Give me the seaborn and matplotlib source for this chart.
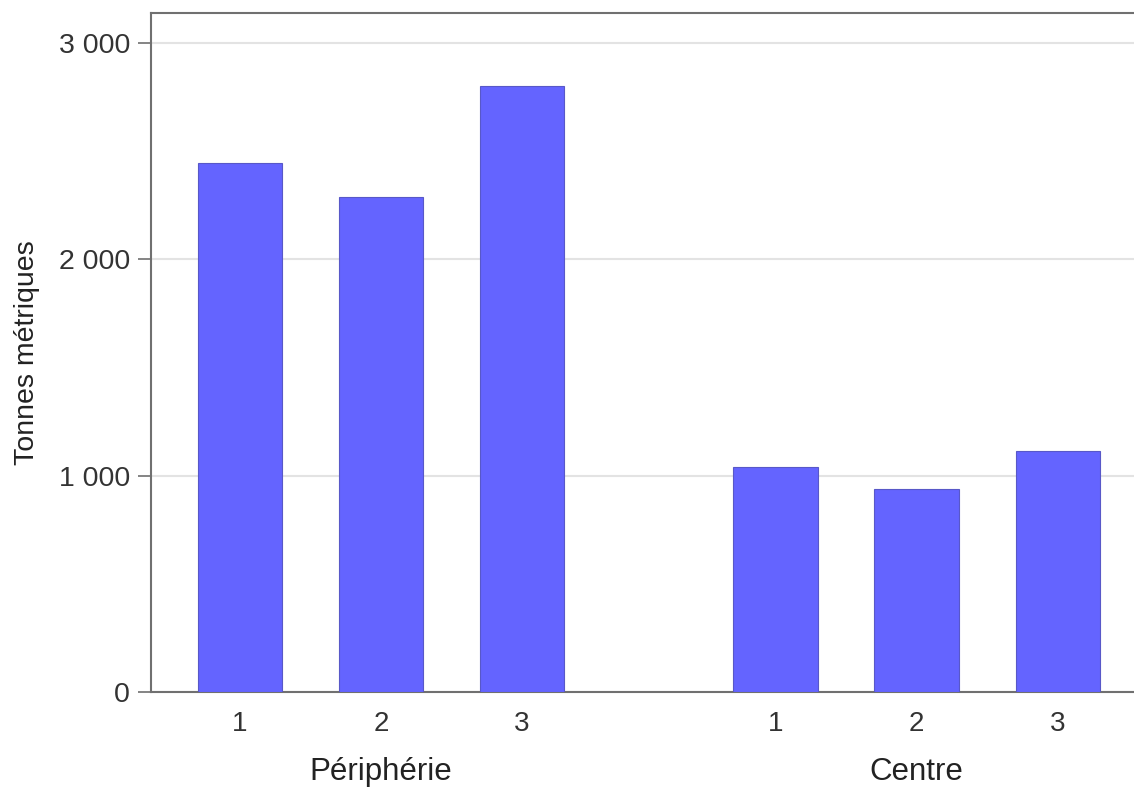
import pandas as pd
import matplotlib
matplotlib.use("Agg")
import matplotlib.pyplot as plt
import matplotlib.transforms as mtransforms
import seaborn as sns

# données (tonnes métriques)
groups = ["Périphérie", "Centre"]
bar_labels = ["1", "2", "3"]
peripherie_vals = [2447, 2287, 2803]
centre_vals = [1039, 937, 1114]

group_gap = 0.8  # espace supplémentaire entre les deux groupes

rows = []
for g, vals in enumerate([peripherie_vals, centre_vals]):
    for i, v in enumerate(vals):
        rows.append({"group": groups[g], "label": bar_labels[i],
                     "pos": g * (len(bar_labels) + group_gap) + i, "value": v})
df = pd.DataFrame(rows)

sns.set_style("white")
plt.rcParams['font.family'] = ['Liberation Sans', 'DejaVu Sans']

fig = plt.figure(figsize=(11.34, 7.89), dpi=100)
ax = fig.add_axes([151 / 1134, 97 / 789, 1 - 151 / 1134, 679 / 789])

sns.barplot(data=df, x="pos", y="value", native_scale=True, width=0.6,
            color="#6464ff", saturation=1, edgecolor="#5858c8", linewidth=0.8,
            ax=ax, zorder=3)

ax.set_xlim(-0.63, 6.34)
ax.set_ylim(0, 3139)
ax.set_yticks([0, 1000, 2000, 3000])
ax.set_yticklabels(["0", "1 000", "2 000", "3 000"])
ax.yaxis.grid(True, color="#e3e3e3", linewidth=1.5, zorder=0)
ax.xaxis.grid(False)

ax.set_xticks(df["pos"])
ax.set_xticklabels(df["label"])
ax.tick_params(axis="x", length=0, pad=14, labelsize=20, labelcolor="#333333")
ax.tick_params(axis="y", length=9.5, width=1.2, color="#707070", pad=5.5,
               labelsize=20.5, labelcolor="#333333", left=True)

for side in ["left", "bottom", "top"]:
    ax.spines[side].set_color("#707070")
    ax.spines[side].set_linewidth(1.5)
ax.spines["right"].set_visible(False)

ax.set_xlabel("")
ax.set_ylabel("Tonnes métriques", fontsize=20.5, color="#222222")
ax.yaxis.set_label_coords(-0.113, 0.5)

trans = mtransforms.blended_transform_factory(ax.transData, ax.transAxes)
for g in groups:
    mid = df[df["group"] == g]["pos"].median()
    ax.text(mid, -0.118, g, transform=trans, ha="center", va="center",
            fontsize=22.5, color="#222222")

fig.savefig("out.png", dpi=100, facecolor="white")
